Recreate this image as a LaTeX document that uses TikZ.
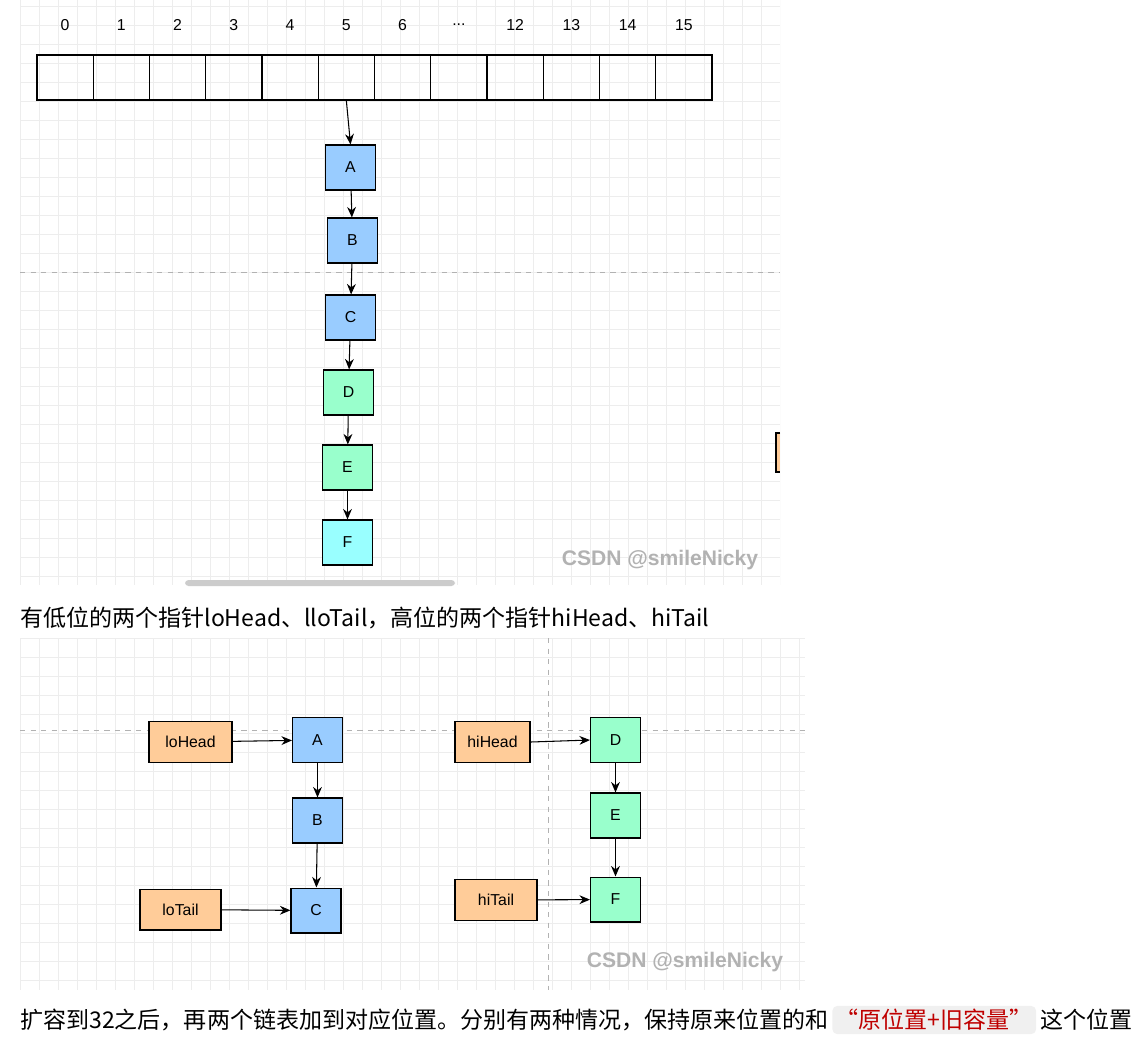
\documentclass[tikz,border=0pt]{standalone}
\usepackage{fontspec}
\usetikzlibrary{arrows.meta}
\setmainfont{Liberation Sans}
\newfontfamily\cjk{Noto Sans CJK SC}
\begin{document}
\begin{tikzpicture}[x=0.02cm,y=-0.02cm,
  box/.style={draw,line width=0.6pt,minimum width=1.0cm,minimum height=0.9cm,inner sep=0pt,font=\small},
  cell/.style={draw,line width=0.6pt,minimum width=1.125cm,minimum height=0.9cm,inner sep=0pt},
  blue/.style={box,fill=nb},green/.style={box,fill=ng},cyan/.style={box,fill=nc},
  lbl/.style={draw,line width=0.6pt,fill=no,minimum height=0.82cm,inner sep=0pt,font=\small},
  arr/.style={-{Stealth[length=6pt,width=5pt]},line width=0.6pt},
  wm/.style={text=gray!60,font=\bfseries\large},
  para/.style={anchor=west,inner sep=0pt,font=\cjk\fontsize{13.1}{16}\selectfont}]
\definecolor{nb}{HTML}{99CCFF}\definecolor{ng}{HTML}{99FFCC}\definecolor{nc}{HTML}{99FFFF}\definecolor{no}{HTML}{FFCC99}
\useasboundingbox (0,0) rectangle (1148,1046);
\fill[white] (0,0) rectangle (1148,1046);
% grids
\begin{scope}
\clip (20,0) rectangle (780,585);
\foreach \x in {20,39,...,780} \draw[black!7] (\x,0)--(\x,585);
\foreach \y in {6,25,...,585} \draw[black!7] (20,\y)--(780,\y);
\end{scope}
\draw[black!30,dashed] (20,272)--(780,272);
\fill[black!20,rounded corners=2pt] (185,580) rectangle (455,586);
\begin{scope}
\clip (20,638) rectangle (805,990);
\foreach \x in {20,39,...,805} \draw[black!7] (\x,638)--(\x,990);
\foreach \y in {638,657,...,990} \draw[black!7] (20,\y)--(805,\y);
\end{scope}
\draw[black!30,dashed] (20,730)--(805,730);
\draw[black!30,dashed] (548,638)--(548,990);
% array
\foreach \i/\t in {0/0,1/1,2/2,3/3,4/4,5/5,6/6,7/{...},8/12,9/13,10/14,11/15}{
  \node[cell] (c\i) at ({65.1+56.25*\i},77.5) {};
  \node[font=\small] (t\i) at ({65.1+56.25*\i},25) {\t};
}
\node[blue]  (A) at (350.5,167.5) {A};
\node[blue]  (B) at (352.5,240.5) {B};
\node[blue]  (C) at (350.5,317.5) {C};
\node[green] (D) at (348.5,392.5) {D};
\node[green] (E) at (347.5,467.5) {E};
\node[cyan]  (F) at (347.5,542.5) {F};
\draw[arr] (c5.south)--(A.north);
\draw[arr] (A)--(B); \draw[arr] (B)--(C); \draw[arr] (C)--(D); \draw[arr] (D)--(E); \draw[arr] (E)--(F);
\fill[no] (776,433) rectangle (780,472); \draw[line width=0.6pt] (780,433)--(776,433)--(776,472)--(780,472);
\node[wm] (w1) at (660,560) {CSDN @smileNicky};
\node[para] (txt1) at (20,618) {有低位的两个指针loHead、lloTail，高位的两个指针hiHead、hiTail};
% second
\node[blue]  (A2) at (317.5,740) {A};
\node[blue]  (B2) at (317.5,820.5) {B};
\node[blue]  (C2) at (316,910.5) {C};
\node[green] (D2) at (615.5,740) {D};
\node[green] (E2) at (615.5,815.5) {E};
\node[green] (F2) at (615.5,899.5) {F};
\node[lbl,minimum width=1.66cm] (lh) at (190.5,742) {loHead};
\node[lbl,minimum width=1.62cm] (lt) at (180.5,909.5) {loTail};
\node[lbl,minimum width=1.5cm] (hh) at (492.5,742) {hiHead};
\node[lbl,minimum width=1.64cm] (ht) at (496,900) {hiTail};
\draw[arr] (lh)--(A2); \draw[arr] (A2)--(B2); \draw[arr] (B2)--(C2); \draw[arr] (lt)--(C2);
\draw[arr] (hh.east)--(D2.west); \draw[arr] (D2)--(E2); \draw[arr] (E2)--(F2); \draw[arr] (ht)--(F2);
\node[wm] (w2) at (685,962) {CSDN @smileNicky};
\node[para] (txt2) at (20,1020) {扩容到32之后，再两个链表加到对应位置。分别有两种情况，保持原来位置的和\,\tikz[baseline=(h.base)]\node[fill=black!6,rounded corners=3pt,inner sep=2pt,text=red!75!black] (h) {“原位置+旧容量”};\,这个位置};
\end{tikzpicture}
\end{document}
